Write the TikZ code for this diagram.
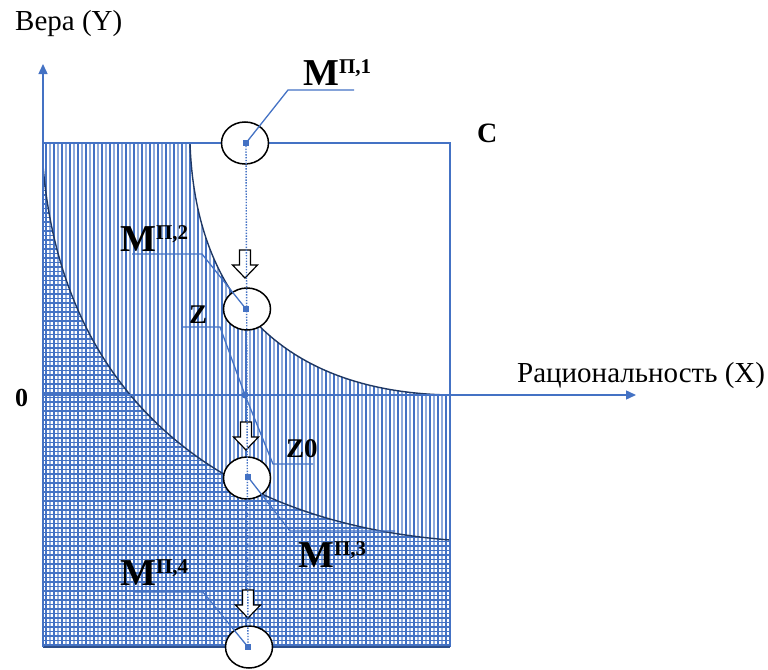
\documentclass[tikz,border=0pt]{standalone}
\usepackage{fontspec}
\setmainfont{Liberation Serif}
\usetikzlibrary{arrows.meta,shapes.geometric}
\definecolor{bl}{HTML}{4472C4}
\definecolor{lightbl}{HTML}{8EAADC}
\definecolor{navy}{HTML}{1F3864}
\newcommand\mlab[1]{{\fontsize{38}{38}\selectfont\bfseries M}\raisebox{12pt}{\fontsize{21}{21}\selectfont\bfseries П,#1}}
\begin{document}
\begin{tikzpicture}[x=1pt,y=-1pt,
  axis/.style={bl,line width=1.4pt,-{Triangle[length=10pt,width=9pt]}},
  boxline/.style={bl,line width=1.4pt},
  curve/.style={navy,line width=1.4pt},
  leader/.style={bl,line width=1.3pt},
  vhatch/.style={line width=1.35pt},
  hhatch/.style={line width=1.1pt},
  circ/.style={ellipse,draw=black,fill=white,line width=1.5pt,minimum width=47pt,minimum height=42pt,inner sep=0pt},
  sq/.style={rectangle,fill=bl,minimum size=6pt,inner sep=0pt},
  txt/.style={anchor=base west,inner sep=0pt},
  blockarrow/.pic={\draw[black,fill=white,line width=1.2pt] (-5.5,0) -- (5.5,0) -- (5.5,15) -- (12.5,15) -- (0,28) -- (-12.5,15) -- (-5.5,15) -- cycle;}
]
\useasboundingbox (0,0) rectangle (768,669);
% vertical hatching
\begin{scope}
\clip (43,143) -- (190,143) .. controls (195,295) and (280,392) .. (450,395) -- (450,647) -- (43,647) -- cycle;
\foreach \x in {46,54,...,450} \draw[vhatch,draw=bl] (\x,140) -- (\x,650);
\foreach \x in {50,58,...,450} \draw[vhatch,draw=lightbl] (\x,140) -- (\x,650);
\end{scope}
% horizontal hatching (grid)
\begin{scope}
\clip (43,165) .. controls (60,380) and (200,520) .. (450,540) -- (450,647) -- (43,647) -- cycle;
\foreach \y in {168,172.5,...,650} \draw[hhatch,draw=bl] (40,\y) -- (455,\y);
\end{scope}
% curves
\draw[curve] (190,143) .. controls (195,295) and (280,392) .. (450,395);
\draw[curve] (43,165) .. controls (60,380) and (200,520) .. (450,540);
% box and axes
\coordinate (TL) at (43,143);
\coordinate (TR) at (450,143);
\coordinate (BR) at (450,647);
\coordinate (BL) at (43,647);
\coordinate (O) at (43,395);
\coordinate (Ytip) at (43,64);
\coordinate (Xtip) at (636,395);
\draw[boxline] (TL) -- (TR) -- (BR);
\draw[navy!60!bl,line width=1.4pt] (BL) -- (BR);
\draw[axis] (BL) -- (Ytip);
\draw[axis] (O) -- (Xtip);
% circles
\node[circ] (c1) at (245,143) {};
\node[circ] (c2) at (247,309) {};
\node[circ] (c3) at (247,478) {};
\node[circ] (c4) at (249,647) {};
% block arrows
\pic at (245,250) {blockarrow};
\pic at (246,422) {blockarrow};
\pic at (248,590) {blockarrow};
% centre points
\coordinate (s1) at (246,143);
\coordinate (s2) at (246,309);
\coordinate (s3) at (248,477);
\coordinate (s4) at (248,647);
\coordinate (zp) at (245,395);
\draw[bl,line width=1.4pt,dash pattern=on 1.4pt off 1.4pt] (s1) -- (s4);
% leaders
\coordinate (l1a) at (288,90);  \coordinate (l1b) at (354,90);
\coordinate (l2a) at (202,254); \coordinate (l2b) at (132,254);
\coordinate (lza) at (220,327); \coordinate (lzb) at (183,327);
\coordinate (l0a) at (273,464); \coordinate (l0b) at (313,464);
\coordinate (l3a) at (290,531); \coordinate (l3b) at (395,531);
\coordinate (l4a) at (203,592); \coordinate (l4b) at (133,592);
\draw[leader] (s1) -- (l1a) -- (l1b);
\draw[leader] (s2) -- (l2a) -- (l2b);
\draw[leader] (zp) -- (lza) -- (lzb);
\draw[leader] (zp) -- (l0a) -- (l0b);
\draw[leader] (s3) -- (l3a) -- (l3b);
\draw[leader] (s4) -- (l4a) -- (l4b);
\node[sq] (q1) at (s1) {};
\node[sq] (q2) at (s2) {};
\node[sq] (q3) at (s3) {};
\node[sq] (q4) at (s4) {};
\node[circle,fill=bl,minimum size=7pt,inner sep=0pt] (zdot) at (zp) {};
% labels
\node[txt,font=\fontsize{29}{29}\selectfont] (ylab) at (15,31) {Вера (Y)};
\node[txt,font=\fontsize{29}{29}\selectfont] (xlab) at (517,382) {Рациональность (X)};
\node[txt,font=\fontsize{26}{26}\selectfont\bfseries] (zero) at (15,406) {0};
\node[txt,font=\fontsize{28}{28}\selectfont\bfseries] (C) at (477,142) {C};
\node[txt,font=\fontsize{27}{27}\selectfont\bfseries] (Z) at (189,323) {Z};
\node[txt,font=\fontsize{27}{27}\selectfont\bfseries] (Z0) at (286,457) {Z0};
\node[txt] (M1) at (303,85) {\mlab{1}};
\node[txt] (M2) at (120,251) {\mlab{2}};
\node[txt] (M3) at (298,567) {\mlab{3}};
\node[txt] (M4) at (120,585) {\mlab{4}};
\end{tikzpicture}
\end{document}
